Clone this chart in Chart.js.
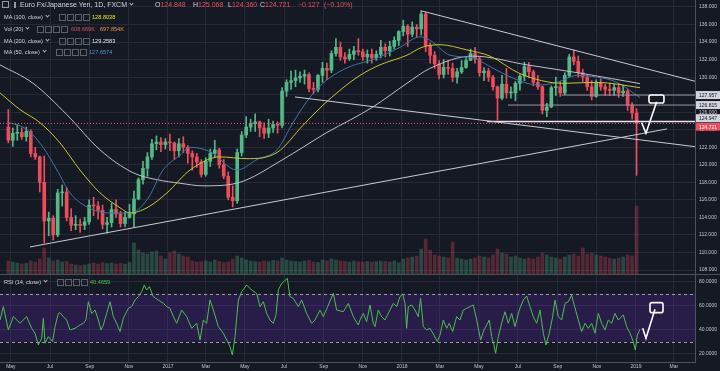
<!DOCTYPE html>
<html>
<head>
<meta charset="utf-8">
<title>Euro Fx/Japanese Yen, 1D</title>
<script src="https://cdn.jsdelivr.net/npm/chart.js@4.4.1/dist/chart.umd.min.js"></script>
<style>
  body { margin: 0; background: #151924; width: 720px; height: 371px; overflow: hidden; position: relative;
         font-family: 'Liberation Sans', Arial, sans-serif; color: #d1d4dc; }
  canvas { position: absolute; left: 0; }
  #priceChart { top: 0; }
  #rsiChart { top: 275px; }
  #paneSep { position: absolute; left: 0; top: 274px; width: 720px; height: 1px; background: #4a4e5a; }
  .row { position: absolute; white-space: nowrap; font-size: 5.6px; line-height: 8px; }
  .title { font-size: 7px; }
  .chev { display: inline-block; width: 2px; height: 2px; border-right: 1px solid #b2b5be; border-bottom: 1px solid #b2b5be;
          transform: rotate(45deg); margin: 0 0 2px 3px; }
  .btns { position: absolute; top: 1px; }
  .btns span { display: inline-block; width: 5px; height: 5px; border: 1px solid #5d606b; margin-right: 1px; vertical-align: top; }
  .ico { display: inline-block; width: 5px; height: 5px; border: 1px solid #9598a1; margin-right: 5px; vertical-align: -1px; }
  .ico.bar { width: 2px; height: 6px; background: #9598a1; border: none; margin-right: 4px; }
  .dn { color: #eb4d5c; }
</style>
</head>
<body>
<canvas id="priceChart" width="720" height="274"></canvas>
<div id="paneSep"></div>
<canvas id="rsiChart" width="720" height="96"></canvas>

<!-- legends (plain text, drawn over the charts) -->
<div class="row title" style="left:2px;top:1px"><span class="ico"></span><span class="ico bar"></span>Euro Fx/Japanese Yen, 1D, FXCM<span class="chev"></span></div>
<div class="row title" style="left:155px;top:1px">O<span class="dn">124.848</span></div>
<div class="row title" style="left:193px;top:1px">H<span class="dn">125.068</span></div>
<div class="row title" style="left:228px;top:1px">L<span class="dn">124.360</span></div>
<div class="row title" style="left:260px;top:1px">C<span class="dn">124.721</span></div>
<div class="row title dn" style="left:298px;top:1px">−0.127</div>
<div class="row title dn" style="left:324px;top:1px">(−0.10%)</div>

<div class="row" style="left:4px;top:13px">MA (100, close)<span class="chev"></span></div>
<div class="row btns" style="left:59px;top:14px"><span></span><span></span><span></span><span></span></div>
<div class="row" style="left:92px;top:13px;color:#e8e81e">128.8038</div>

<div class="row" style="left:4px;top:25px">Vol (20)<span class="chev"></span></div>
<div class="row btns" style="left:37px;top:26px"><span></span><span></span><span></span><span></span></div>
<div class="row" style="left:71px;top:25px;color:#d2505c">608.669K</div>
<div class="row" style="left:100px;top:25px;color:#f0914a">697.854K</div>

<div class="row" style="left:4px;top:37px">MA (200, close)<span class="chev"></span></div>
<div class="row btns" style="left:59px;top:38px"><span></span><span></span><span></span><span></span></div>
<div class="row" style="left:92px;top:37px;color:#e6e7eb">129.2583</div>

<div class="row" style="left:4px;top:48px">MA (50, close)<span class="chev"></span></div>
<div class="row btns" style="left:56px;top:49px"><span></span><span></span><span></span><span></span></div>
<div class="row" style="left:89px;top:48px;color:#4a98cf">127.6574</div>

<div class="row" style="left:4px;top:278px">RSI (14, close)<span class="chev"></span></div>
<div class="row btns" style="left:57px;top:279px"><span></span><span></span><span></span><span></span></div>
<div class="row" style="left:90px;top:278px;color:#4cc44c">40.4659</div>

<script>
// ---- data (EUR/JPY, FXCM) ----
// x values are days counted from 2016-05-01

// weekly candles, first week starting Monday 2016-04-25; open = previous close
const firstWeek = '2016-04-25';
const firstOpen = 124.3;
const closes = [
  122.8, 123.6, 123.7, 123.2, 123.8, 121.3, 120.9, 118.0, 113.6, 113.9,
  112.0, 116.8, 116.9, 114.0, 113.1, 113.2, 113.1, 113.5, 115.4, 115.3,
  114.8, 113.2, 113.4, 114.9, 114.4, 113.3, 114.0, 114.4, 116.1, 118.3,
  119.6, 120.9, 122.4, 122.6, 122.3, 122.6, 122.5, 121.6, 122.4, 122.0,
  121.3, 120.9, 120.3, 118.9, 120.4, 121.3, 121.7, 120.0, 118.7, 116.3,
  115.9, 121.4, 123.4, 124.3, 124.7, 124.9, 124.2, 123.6, 124.2, 124.6,
  124.5, 128.4, 129.4, 129.6, 129.9, 130.1, 130.3, 128.7, 128.6, 130.2,
  131.0, 130.8, 132.7, 133.4, 132.3, 132.1, 132.6, 133.0, 132.9, 132.3,
  132.6, 132.2, 132.6, 133.4, 133.0, 133.5, 134.2, 135.2, 135.8, 134.9,
  135.7, 135.5, 137.2, 133.6, 132.5, 131.5, 130.3, 131.1, 131.0, 130.0,
  130.6, 131.1, 131.9, 132.7, 132.1, 130.5, 130.7, 130.0, 128.9, 127.6,
  129.2, 128.2, 128.2, 129.3, 130.1, 131.2, 130.6, 129.4, 128.9, 126.2,
  126.6, 128.8, 128.9, 128.2, 130.2, 132.3, 131.8, 130.5, 130.0, 128.9,
  127.8, 129.4, 128.9, 128.6, 128.5, 128.8, 128.2, 128.4, 126.8, 125.9,
  124.721
];
const highs = [
  126.3, 124.2, 124.6, 124.2, 124.3, 124.0, 122.0, 121.0, 121.0, 114.6,
  114.2, 117.2, 117.7, 117.4, 115.0, 114.2, 113.8, 114.0, 116.0, 116.3,
  115.8, 115.4, 114.0, 115.6, 116.0, 114.7, 114.6, 115.5, 117.0, 118.5,
  120.4, 121.4, 122.9, 123.3, 123.1, 123.0, 123.5, 122.6, 123.0, 123.2,
  122.2, 121.6, 121.3, 120.6, 120.8, 121.8, 122.8, 121.9, 120.6, 119.2,
  117.6, 121.8, 123.8, 125.5, 125.2, 125.8, 125.0, 124.8, 125.2, 125.0,
  124.9, 128.8, 129.7, 130.7, 130.8, 130.6, 130.8, 130.5, 129.4, 130.3,
  131.7, 131.6, 133.0, 134.4, 134.0, 132.8, 133.2, 133.5, 134.4, 133.2,
  133.1, 133.2, 133.0, 134.2, 133.8, 134.1, 134.6, 135.3, 136.5, 136.0,
  136.3, 136.0, 137.5, 137.4, 133.9, 132.9, 131.9, 132.0, 131.9, 131.6,
  131.0, 131.9, 132.3, 133.2, 133.4, 132.3, 131.1, 131.0, 130.2, 129.0,
  130.2, 131.0, 128.9, 129.5, 130.3, 131.7, 131.7, 130.8, 130.2, 129.0,
  127.0, 129.0, 130.0, 129.5, 130.5, 132.6, 133.1, 132.4, 130.9, 130.3,
  129.6, 129.7, 129.8, 129.2, 129.3, 129.2, 129.3, 129.1, 128.6, 127.1,
  126.4
];
const lows = [
  122.5, 122.1, 122.8, 122.9, 122.7, 120.9, 120.6, 116.9, 111.1, 111.9,
  111.4, 111.8, 115.3, 113.6, 112.5, 112.6, 112.3, 112.6, 113.2, 114.2,
  113.8, 112.7, 112.2, 112.9, 114.0, 112.9, 112.9, 113.9, 112.9, 116.0,
  117.8, 118.7, 120.6, 121.7, 121.5, 121.8, 121.6, 120.6, 120.9, 121.4,
  120.2, 119.4, 119.7, 118.6, 118.7, 119.8, 120.9, 119.6, 118.4, 116.0,
  115.2, 115.6, 121.0, 123.1, 123.8, 123.8, 123.2, 123.0, 123.1, 123.7,
  123.6, 124.2, 127.8, 128.6, 128.9, 129.4, 129.2, 128.3, 128.1, 128.3,
  129.4, 129.7, 130.5, 132.4, 131.9, 131.6, 131.9, 132.0, 132.5, 131.9,
  131.6, 131.6, 131.9, 132.2, 132.3, 132.4, 133.2, 133.6, 134.7, 133.5,
  134.6, 134.6, 134.8, 132.9, 131.6, 131.0, 129.8, 129.9, 130.3, 129.5,
  129.3, 130.4, 131.0, 131.9, 131.6, 130.1, 129.6, 129.5, 128.5, 125.1,
  127.4, 127.6, 127.6, 127.3, 128.5, 129.6, 129.9, 129.0, 128.6, 125.8,
  125.5, 126.5, 127.9, 127.8, 128.0, 130.0, 131.4, 130.0, 129.5, 128.5,
  127.4, 127.7, 128.5, 127.9, 127.9, 127.9, 127.7, 127.8, 126.2, 125.2,
  118.8
];
// volume, thousands
const volumes = [
  260, 240, 220, 200, 210, 260, 240, 300, 520, 320,
  260, 280, 240, 250, 200, 180, 170, 180, 200, 220,
  200, 230, 210, 220, 200, 210, 200, 230, 620, 480,
  420, 400, 440, 460, 360, 300, 420, 460, 400, 360,
  340, 260, 240, 250, 260, 240, 280, 250, 230, 240,
  300, 360, 320, 280, 260, 250, 240, 260, 250, 270,
  260, 320, 280, 260, 250, 240, 260, 270, 240, 230,
  280, 260, 300, 280, 260, 250, 240, 260, 250, 240,
  250, 240, 250, 260, 250, 240, 260, 220, 300, 320,
  340, 360, 500, 700, 480, 380, 360, 340, 320, 640,
  320, 300, 280, 300, 320, 360, 340, 320, 380, 500,
  420, 400, 340, 360, 320, 300, 320, 300, 340, 420,
  380, 340, 320, 300, 340, 380, 400, 360, 520, 400,
  420, 380, 360, 340, 320, 300, 320, 340, 380, 360,
  1360
];

// moving averages (day, value)
const ma50Days = [-6.1, 25.1, 50.1, 71.9, 92.2, 118.7, 154.6, 185.8, 212.3, 237.3, 263.8, 279.4, 310.6, 352.7, 383.9, 415.1, 440.0, 466.5, 493.1, 528.9, 564.8, 606.9, 638.1, 653.7, 684.9, 720.8, 747.3, 773.8, 805.0, 825.3, 851.8, 883.0, 914.2, 945.4, 981.3];
const ma50Values = [124.9, 124.0, 122.0, 119.4, 116.8, 115.2, 114.5, 114.5, 116.0, 119.4, 121.1, 122.0, 121.5, 119.4, 120.6, 121.7, 124.8, 127.7, 129.7, 131.2, 132.0, 133.4, 134.6, 134.2, 132.5, 132.2, 131.2, 130.2, 129.3, 129.1, 129.4, 130.2, 130.0, 129.4, 127.66];
const ma100Days = [-17.0, 14.2, 45.4, 76.6, 107.8, 139.0, 170.2, 185.8, 212.3, 243.5, 279.4, 326.2, 368.3, 415.1, 455.6, 486.8, 513.3, 544.5, 575.7, 617.8, 641.2, 669.3, 711.4, 747.3, 794.1, 861.2, 914.2, 981.3];
const ma100Values = [128.2, 126.3, 124.8, 122.5, 119.4, 116.8, 115.1, 114.5, 115.1, 116.8, 119.4, 120.9, 120.7, 121.4, 124.5, 126.8, 128.5, 130.2, 131.4, 132.5, 133.4, 133.7, 133.1, 132.4, 130.4, 129.3, 129.4, 128.8];
const ma200Days = [-17.0, 34.5, 87.5, 139.0, 190.5, 227.9, 263.8, 299.6, 337.1, 368.3, 415.1, 455.6, 493.1, 528.9, 564.8, 617.8, 653.7, 720.8, 805.0, 892.4, 981.3];
const ma200Values = [131.4, 129.3, 125.7, 121.7, 119.1, 118.3, 117.9, 117.6, 117.7, 118.3, 120.2, 122.0, 123.7, 125.1, 126.6, 129.3, 131.0, 132.4, 131.4, 130.4, 129.26];

// RSI (14) (day, value)
const rsiDays = [
  -17.0, -11.8, -4.0, 3.8, 14.2, 24.6, 32.4, 37.6, 42.8, 48.0, 50.6, 53.2, 58.4, 65.1, 68.8, 74.0, 76.6, 81.8, 87.0, 92.2,
  100.0, 107.8, 113.0, 117.1, 120.8, 126.0, 131.2, 136.4, 140.5, 144.2, 149.4, 154.6, 159.8, 165.0, 170.2, 175.4, 183.2, 188.4, 193.6, 198.8,
  204.0, 208.1, 211.8, 215.9, 222.2, 230.0, 237.8, 243.0, 248.2, 253.4, 258.6, 266.4, 274.2, 282.0, 289.8, 295.0, 300.1, 305.3, 310.6, 315.8,
  323.6, 331.4, 336.6, 341.8, 345.4, 349.6, 354.8, 360.0, 367.8, 375.6, 383.4, 388.6, 393.8, 399.0, 404.2, 409.3, 413.5, 417.1, 422.4, 431.2,
  435.3, 440.5, 448.3, 453.6, 461.3, 469.1, 474.3, 482.2, 487.3, 503.0, 508.1, 518.5, 526.3, 534.1, 541.9,
  544.5, 549.7, 554.9, 560.1, 565.3, 567.9, 573.1, 578.3, 583.5, 591.3, 596.5, 601.7, 606.9, 611.1, 614.7, 617.3, 619.9, 625.1, 630.3, 635.5,
  639.1, 643.3, 648.5, 653.7, 659.9, 665.1, 669.3, 674.5, 679.7, 683.8, 689.0, 695.3, 700.5, 705.7, 710.9, 716.1, 721.3, 726.5, 732.7, 737.9,
  742.1, 746.2, 749.9, 753.5, 756.1, 760.3, 765.5, 770.7, 775.9, 781.1, 786.3, 793.0, 799.3, 804.5, 809.7, 814.9, 820.1, 825.3, 830.5, 834.6,
  839.8, 845.0, 848.7, 853.9, 859.1, 864.3, 869.5, 874.7, 877.3, 885.1, 890.3, 895.5, 900.7, 905.9, 911.1, 916.3, 921.5, 926.7, 931.9, 937.1,
  942.3, 947.5, 955.3, 960.5, 965.7, 970.9, 974.0, 977.1, 981.3
];
const rsiValues = [
  48.2, 59.3, 40.0, 51.0, 45.5, 51.0, 41.3, 37.2, 27.5, 33.0, 49.6, 28.9, 34.4, 30.3, 42.7, 53.7, 54.3, 51.0, 48.2, 40.0,
  41.3, 44.1, 45.5, 48.2, 63.4, 53.7, 56.5, 48.2, 40.0, 44.1, 53.7, 63.4, 51.0, 45.5, 38.6, 49.6, 57.9, 59.3, 64.8, 67.6,
  71.7, 77.3, 73.1, 75.9, 67.6, 64.8, 62.0, 59.3, 57.9, 51.0, 45.5, 56.5, 51.0, 41.3, 45.5, 31.6, 48.2, 45.5, 64.8, 56.5,
  42.7, 37.2, 31.6, 26.1, 19.2, 34.4, 64.8, 71.7, 77.3, 73.1, 70.3, 59.3, 63.4, 53.7, 48.2, 45.5, 52.4, 73.1, 78.6, 82.8,
  67.6, 66.2, 59.3, 64.8, 53.7, 45.5, 48.2, 56.5, 51.0, 70.3, 56.5, 55.1, 62.0, 51.0, 44.1,
  48.2, 53.7, 46.8, 60.7, 45.5, 42.7, 56.5, 51.0, 48.2, 56.5, 62.0, 59.3, 67.6, 69.8, 62.0, 41.3, 59.3, 60.7, 56.5, 51.0,
  66.2, 42.7, 40.0, 41.3, 35.7, 30.3, 35.7, 48.2, 41.3, 45.5, 38.6, 51.0, 48.2, 56.5, 57.9, 59.3, 60.7, 48.2, 31.6, 40.0,
  44.1, 48.2, 34.4, 27.5, 20.6, 34.4, 45.5, 55.1, 45.5, 53.7, 42.7, 56.5, 64.8, 68.1, 59.3, 51.0, 45.5, 56.5, 37.2, 27.5,
  37.2, 51.0, 64.8, 51.0, 48.2, 62.0, 63.4, 68.9, 63.4, 48.2, 38.6, 45.5, 41.3, 45.5, 37.2, 53.7, 45.5, 40.0, 48.2, 45.5,
  53.7, 48.2, 52.4, 42.7, 37.2, 30.3, 23.3, 35.7, 40.5
];

// drawn trend lines and levels
const supportDays = [29.8, 1023.4];
const supportPrices = [110.63, 124.09];
const midLineDays = [443.1, 1070.2];
const midLinePrices = [127.74, 122.04];
const topLineDays = [639.2, 1069.7];
const topLinePrices = [137.58, 129.48];
const levelPrices = [127.957, 126.815, 124.947];
const levelStartDays = [859.1, 775.4, 742.6];
const lastClose = 124.721;

// hand-drawn tick marks with a box (price pane / RSI pane)
const markDays = [983.9, 990.6, 1007.3];
const markPrices = [124.81, 123.60, 127.20];
const markBoxDays = [995.3, 1018.7];
const markBoxPrices = [127.97, 127.05];
const rsiMarkDays = [985.5, 990.6, 1004.7];
const rsiMarkValues = [41.3, 33.0, 57.1];
const rsiBoxDays = [996.9, 1017.2];
const rsiBoxValues = [62.6, 54.3];

// axes
const xTickDates = ['2016-05-01', '2016-07-01', '2016-09-01', '2016-11-01', '2017-01-01', '2017-03-01', '2017-05-01', '2017-07-01', '2017-09-01',
                    '2017-11-01', '2018-01-01', '2018-03-01', '2018-05-01', '2018-07-01', '2018-09-01', '2018-11-01', '2019-01-01', '2019-03-01'];
const xTickLabels = ['May', 'Jul', 'Sep', 'Nov', '2017', 'Mar', 'May', 'Jul', 'Sep', 'Nov', '2018', 'Mar', 'May', 'Jul', 'Sep', 'Nov', '2019', 'Mar'];
const priceTicks = [108, 110, 112, 114, 116, 118, 120, 122, 124, 126, 128, 130, 132, 134, 136, 138];
const rsiTicks = [20, 40, 60, 80];

// ---- styling ----
const upColor = '#53b987';
const downColor = '#eb4d5c';
const gridColor = '#262a36';
const axisBorder = '#4c525e';
const axisText = '#c3c6ce';
const lineWhite = '#c9cbd1';
const fontFamily = "'Liberation Sans', Arial, sans-serif";
const xMin = -17.0, xMax = 1067.1;

// ---- helpers ----
const originMs = Date.UTC(2016, 4, 1);
function dayOf(iso) {
    const p = iso.split('-').map(Number);
    return (Date.UTC(p[0], p[1] - 1, p[2]) - originMs) / 86400000;
}
function toXY(xs, ys) {
    return xs.map((x, i) => ({ x: x, y: ys[i] }));
}

const firstDay = dayOf(firstWeek);
const candleDays = closes.map((c, i) => firstDay + 7 * i + 2);   // mid-week
const opens = closes.map((c, i) => i === 0 ? firstOpen : closes[i - 1]);
const isUp = closes.map((c, i) => c >= opens[i]);

function candleColor(ctx) {
    return isUp[ctx.dataIndex] ? upColor : downColor;
}
function volumeColor(ctx) {
    return isUp[ctx.dataIndex] ? 'rgba(83,185,135,0.3)' : 'rgba(235,77,92,0.3)';
}

function xAxis(showLabels) {
    return {
        type: 'linear', min: xMin, max: xMax, offset: false,
        grid: { color: gridColor, drawTicks: false, offset: false },
        border: { display: showLabels, color: axisBorder },
        ticks: {
            display: showLabels, color: axisText, padding: 2, maxRotation: 0, autoSkip: false,
            font: { size: 5, family: fontFamily },
            callback: (v, i) => xTickLabels[i]
        },
        afterBuildTicks: s => { s.ticks = xTickDates.map(d => ({ value: dayOf(d) })); },
        afterFit: s => { s.height = showLabels ? 9 : 0; s.paddingLeft = 0; s.paddingRight = 0; }
    };
}
function yAxis(min, max, tickValues, digits) {
    return {
        position: 'right', min: min, max: max,
        grid: { color: gridColor, drawTicks: false },
        border: { color: axisBorder },
        ticks: { color: axisText, padding: 4, font: { size: 5, family: fontFamily }, callback: v => v.toFixed(digits) },
        afterBuildTicks: s => { s.ticks = tickValues.map(v => ({ value: v })); },
        afterFit: s => { s.width = 25; s.paddingTop = 0; s.paddingBottom = 0; }
    };
}

// outlined rounded box drawn in data coordinates
function markBox(id, axisId, days, values) {
    return {
        id: id,
        afterDatasetsDraw(chart) {
            const xs = chart.scales.x, ys = chart.scales[axisId], ctx = chart.ctx;
            const x0 = xs.getPixelForValue(days[0]), x1 = xs.getPixelForValue(days[1]);
            const y0 = ys.getPixelForValue(values[0]), y1 = ys.getPixelForValue(values[1]);
            ctx.save();
            ctx.strokeStyle = '#ffffff';
            ctx.lineWidth = 1.6;
            ctx.beginPath();
            ctx.roundRect(x0, y0, x1 - x0, y1 - y0, 2);
            ctx.stroke();
            ctx.restore();
        }
    };
}

// price labels on the right axis for the levels and the last close
const priceTags = {
    id: 'priceTags',
    afterDraw(chart) {
        const ys = chart.scales.y, ctx = chart.ctx;
        const tags = levelPrices.map(v => ({ v: v, bg: '#d1d4dc', fg: '#131722' }));
        tags.push({ v: lastClose, bg: downColor, fg: '#ffffff' });
        tags.forEach(t => { t.py = ys.getPixelForValue(t.v); });
        tags.sort((a, b) => a.py - b.py);
        for (let i = 1; i < tags.length; i++) {
            if (tags[i].py - tags[i - 1].py < 8.5) {
                const mid = (tags[i].py + tags[i - 1].py) / 2;
                tags[i - 1].py = mid - 4.25;
                tags[i].py = mid + 4.25;
            }
        }
        ctx.save();
        ctx.font = '5px ' + fontFamily;
        ctx.textBaseline = 'middle';
        tags.forEach(t => {
            ctx.fillStyle = t.bg;
            ctx.fillRect(ys.left + 1, t.py - 4, chart.width - ys.left - 1, 8);
            ctx.fillStyle = t.fg;
            ctx.fillText(t.v.toFixed(3), ys.left + 4, t.py + 0.5);
        });
        ctx.restore();
    }
};

// purple band between 30 and 70 with dashed bounds
const rsiBand = {
    id: 'rsiBand',
    beforeDatasetsDraw(chart) {
        const { ctx, chartArea } = chart;
        const ys = chart.scales.y;
        const top = ys.getPixelForValue(70), bottom = ys.getPixelForValue(30);
        ctx.save();
        ctx.fillStyle = 'rgba(120,40,220,0.2)';
        ctx.fillRect(chartArea.left, top, chartArea.right - chartArea.left, bottom - top);
        ctx.strokeStyle = '#9a9ca6';
        ctx.lineWidth = 1;
        ctx.setLineDash([3, 3]);
        [top, bottom].forEach(y => {
            ctx.beginPath();
            ctx.moveTo(chartArea.left, Math.round(y) + 0.5);
            ctx.lineTo(chartArea.right, Math.round(y) + 0.5);
            ctx.stroke();
        });
        ctx.restore();
    }
};

function lineSet(data, color, width, order, extra) {
    return Object.assign({
        type: 'line', data: data, borderColor: color, borderWidth: width,
        pointRadius: 0, fill: false, tension: 0, order: order
    }, extra || {});
}

// ---- price pane ----
const priceDatasets = [
    {
        type: 'bar', label: 'Volume', yAxisID: 'vol', grouped: false, order: 10,
        data: toXY(candleDays, volumes), backgroundColor: volumeColor, barThickness: 3, borderWidth: 0
    },
    {
        type: 'bar', label: 'Wicks', grouped: false, order: 9,
        data: candleDays.map((d, i) => ({ x: d, y: [lows[i], highs[i]] })),
        backgroundColor: candleColor, barThickness: 1, borderWidth: 0
    },
    {
        type: 'bar', label: 'Bodies', grouped: false, order: 8, minBarLength: 1,
        data: candleDays.map((d, i) => ({ x: d, y: [opens[i], closes[i]] })),
        backgroundColor: candleColor, barThickness: 3, borderWidth: 0
    },
    lineSet(toXY(ma200Days, ma200Values), '#bfc1c7', 1, 6, { cubicInterpolationMode: 'monotone' }),
    lineSet(toXY(ma100Days, ma100Values), '#c9c62c', 1, 5, { cubicInterpolationMode: 'monotone' }),
    lineSet(toXY(ma50Days, ma50Values), '#3b78a6', 1, 5, { cubicInterpolationMode: 'monotone' }),
    lineSet(toXY(supportDays, supportPrices), lineWhite, 1, 4),
    lineSet(toXY(midLineDays, midLinePrices), lineWhite, 1, 4),
    lineSet(toXY(topLineDays, topLinePrices), lineWhite, 1, 4),
    lineSet([{ x: levelStartDays[0], y: levelPrices[0] }, { x: xMax, y: levelPrices[0] }], '#9598a1', 1, 4),
    lineSet([{ x: levelStartDays[1], y: levelPrices[1] }, { x: xMax, y: levelPrices[1] }], '#9598a1', 1, 4),
    lineSet([{ x: levelStartDays[2], y: levelPrices[2] }, { x: xMax, y: levelPrices[2] }], '#e6e7eb', 1.6, 4),
    lineSet([{ x: xMin, y: lastClose }, { x: xMax, y: lastClose }], 'rgba(240,110,125,0.9)', 1, 3, { borderDash: [1, 2] }),
    lineSet(toXY(markDays, markPrices), '#ffffff', 1.6, 1)
];

new Chart(document.getElementById('priceChart'), {
    type: 'bar',
    data: { datasets: priceDatasets },
    options: {
        responsive: false, animation: false, events: [],
        layout: { padding: 0 },
        plugins: { legend: { display: false }, tooltip: { enabled: false } },
        scales: {
            x: xAxis(false),
            y: yAxis(107.544, 138.798, priceTicks, 3),
            vol: { display: false, min: 0, max: 5480 }
        }
    },
    plugins: [priceTags, markBox('priceMarkBox', 'y', markBoxDays, markBoxPrices)]
});

// ---- RSI pane ----
new Chart(document.getElementById('rsiChart'), {
    type: 'line',
    data: {
        datasets: [
            lineSet(toXY(rsiDays, rsiValues), '#4cc04c', 1, 2),
            lineSet(toXY(rsiMarkDays, rsiMarkValues), '#ffffff', 1.6, 1)
        ]
    },
    options: {
        responsive: false, animation: false, events: [],
        layout: { padding: 0 },
        plugins: { legend: { display: false }, tooltip: { enabled: false } },
        scales: {
            x: xAxis(true),
            y: yAxis(13.36, 85.56, rsiTicks, 4)
        }
    },
    plugins: [rsiBand, markBox('rsiMarkBox', 'y', rsiBoxDays, rsiBoxValues)]
});
</script>
</body>
</html>
